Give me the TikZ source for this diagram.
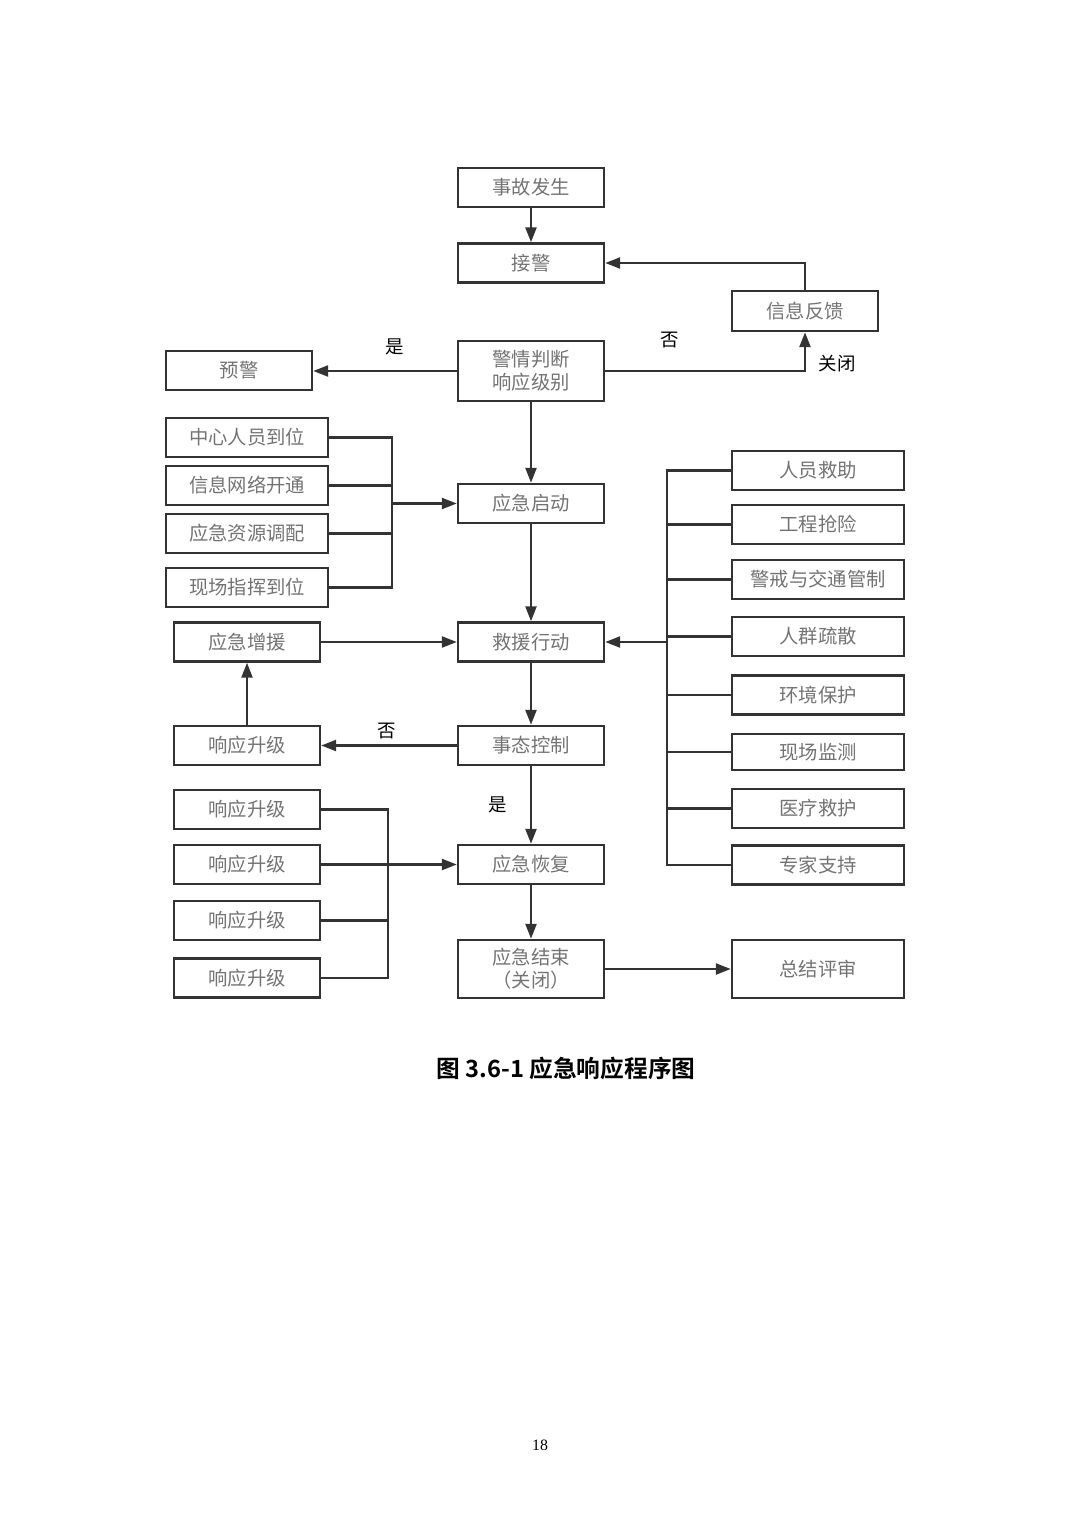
\documentclass[tikz,border=0pt]{standalone}
\usepackage{fontspec}
\setmainfont{Noto Sans CJK SC}
\newfontfamily\capfont{Noto Sans CJK SC Bold}
\newfontfamily\numfont{Liberation Serif}
\usetikzlibrary{arrows.meta,positioning}

\tikzset{
  box/.style={draw=black!80, line width=1.4pt, minimum width=2.92cm, minimum height=0.78cm,
    inner sep=0pt, text=black!55, font=\fontsize{11}{13}\selectfont, align=center},
  widebox/.style={box, minimum width=3.44cm},
  midbox/.style={box, minimum width=3.24cm},
  arr/.style={draw=black!80, line width=1.4pt, -{Triangle[length=0.3cm,width=0.22cm]}},
  ln/.style={draw=black!80, line width=1.4pt},
  lbl/.style={font=\fontsize{10.5}{12}\selectfont, text=black}
}

\begin{document}
\begin{tikzpicture}[x=0.02cm, y=-0.02cm]
    \useasboundingbox (0, 0) rectangle (1080, 1527);

    % main column
    \node[box] (fs) at (531, 187.5) {事故发生};
    \node[box] (jj) at (531, 263) {接警};
    \node[box, minimum height=1.2cm] (pd) at (531, 371) {警情判断\\响应级别};
    \node[box] (qd) at (531, 503.5) {应急启动};
    \node[box] (jy) at (531, 642) {救援行动};
    \node[box] (tk) at (531, 745.5) {事态控制};
    \node[box] (hf) at (531, 864.5) {应急恢复};
    \node[box, minimum height=1.16cm] (js) at (531, 969) {应急结束\\（关闭）};

    % feedback and warning
    \node[box, minimum height=0.8cm] (fk) at (805, 311) {信息反馈};
    \node[box] (yj) at (239, 370.5) {预警};

    % start-up group
    \node[midbox] (zw) at (247, 437.5) {中心人员到位};
    \node[midbox] (wl) at (247, 485.5) {信息网络开通};
    \node[midbox] (zy) at (247, 533.5) {应急资源调配};
    \node[midbox] (zh) at (247, 587.5) {现场指挥到位};
    \coordinate (jl) at (392, 503.5);

    % reinforcement
    \node[box] (zyz) at (247, 642) {应急增援};
    \node[box] (sj) at (247, 745.5) {响应升级};

    % recovery group
    \node[box] (sja) at (247, 809.5) {响应升级};
    \node[box] (sjb) at (247, 864.5) {响应升级};
    \node[box] (sjc) at (247, 920.5) {响应升级};
    \node[box] (sjd) at (247, 978) {响应升级};
    \coordinate (jh) at (388, 864.5);

    % rescue group
    \node[widebox] (ra) at (818, 470.5) {人员救助};
    \node[widebox] (rb) at (818, 524.5) {工程抢险};
    \node[widebox] (rc) at (818, 579.5) {警戒与交通管制};
    \node[widebox] (rd) at (818, 636.5) {人群疏散};
    \node[widebox] (re) at (818, 695) {环境保护};
    \node[widebox, minimum height=0.72cm] (rf) at (818, 752) {现场监测};
    \node[widebox] (rg) at (818, 808.5) {医疗救护};
    \node[widebox] (rh) at (818, 865) {专家支持};
    \coordinate (jr) at (667, 642);

    \node[widebox, minimum height=1.16cm] (zj) at (818, 969) {总结评审};

    % main flow
    \draw[arr] (fs.south) -- (jj.north);
    \draw[arr] (pd.south) -- (qd.north);
    \draw[arr] (qd.south) -- (jy.north);
    \draw[arr] (jy.south) -- (tk.north);
    \draw[arr] (tk.south) -- (hf.north);
    \draw[arr] (hf.south) -- (js.north);
    \draw[arr] (js.east) -- (zj.west);

    % decision branches
    \draw[arr] (pd.west) -- (pd.west -| yj.east);
    \draw[arr] (pd.east) -| (fk.south);
    \draw[arr] (fk.north) |- (jj.east);
    \draw[arr] (tk.west) -- (sj.east);
    \draw[arr] (sj.north) -- (zyz.south);
    \draw[arr] (zyz.east) -- (jy.west);

    % start-up group lines
    \draw[ln] (zw.east) -| (jl);
    \draw[ln] (zh.east) -| (jl);
    \draw[ln] (wl.east) -- (wl.east -| jl);
    \draw[ln] (zy.east) -- (zy.east -| jl);
    \draw[arr] (jl) -- (qd.west);

    % recovery group lines
    \draw[ln] (sja.east) -| (jh);
    \draw[ln] (sjd.east) -| (jh);
    \draw[ln] (sjc.east) -- (sjc.east -| jh);
    \draw[arr] (sjb.east) -- (hf.west);

    % rescue group lines
    \draw[ln] (ra.west) -| (jr);
    \draw[ln] (rh.west) -| (jr);
    \draw[ln] (rb.west) -- (rb.west -| jr);
    \draw[ln] (rc.west) -- (rc.west -| jr);
    \draw[ln] (rd.west) -- (rd.west -| jr);
    \draw[ln] (re.west) -- (re.west -| jr);
    \draw[ln] (rf.west) -- (rf.west -| jr);
    \draw[ln] (rg.west) -- (rg.west -| jr);
    \draw[arr] (jr) -- (jy.east);

    % labels
    \node[lbl] (ys) at (395, 347) {是};
    \node[lbl] (nf) at (670, 340) {否};
    \node[lbl] (gb) at (837, 364) {关闭};
    \node[lbl] (nt) at (387, 731) {否};
    \node[lbl] (yt) at (498, 805) {是};

    \node[font=\capfont\fontsize{13.5}{16}\selectfont] (cap) at (566, 1068) {图 3.6-1 应急响应程序图};
    \node[font=\numfont\fontsize{9}{10}\selectfont] (pg) at (540, 1445) {18};
\end{tikzpicture}
\end{document}
